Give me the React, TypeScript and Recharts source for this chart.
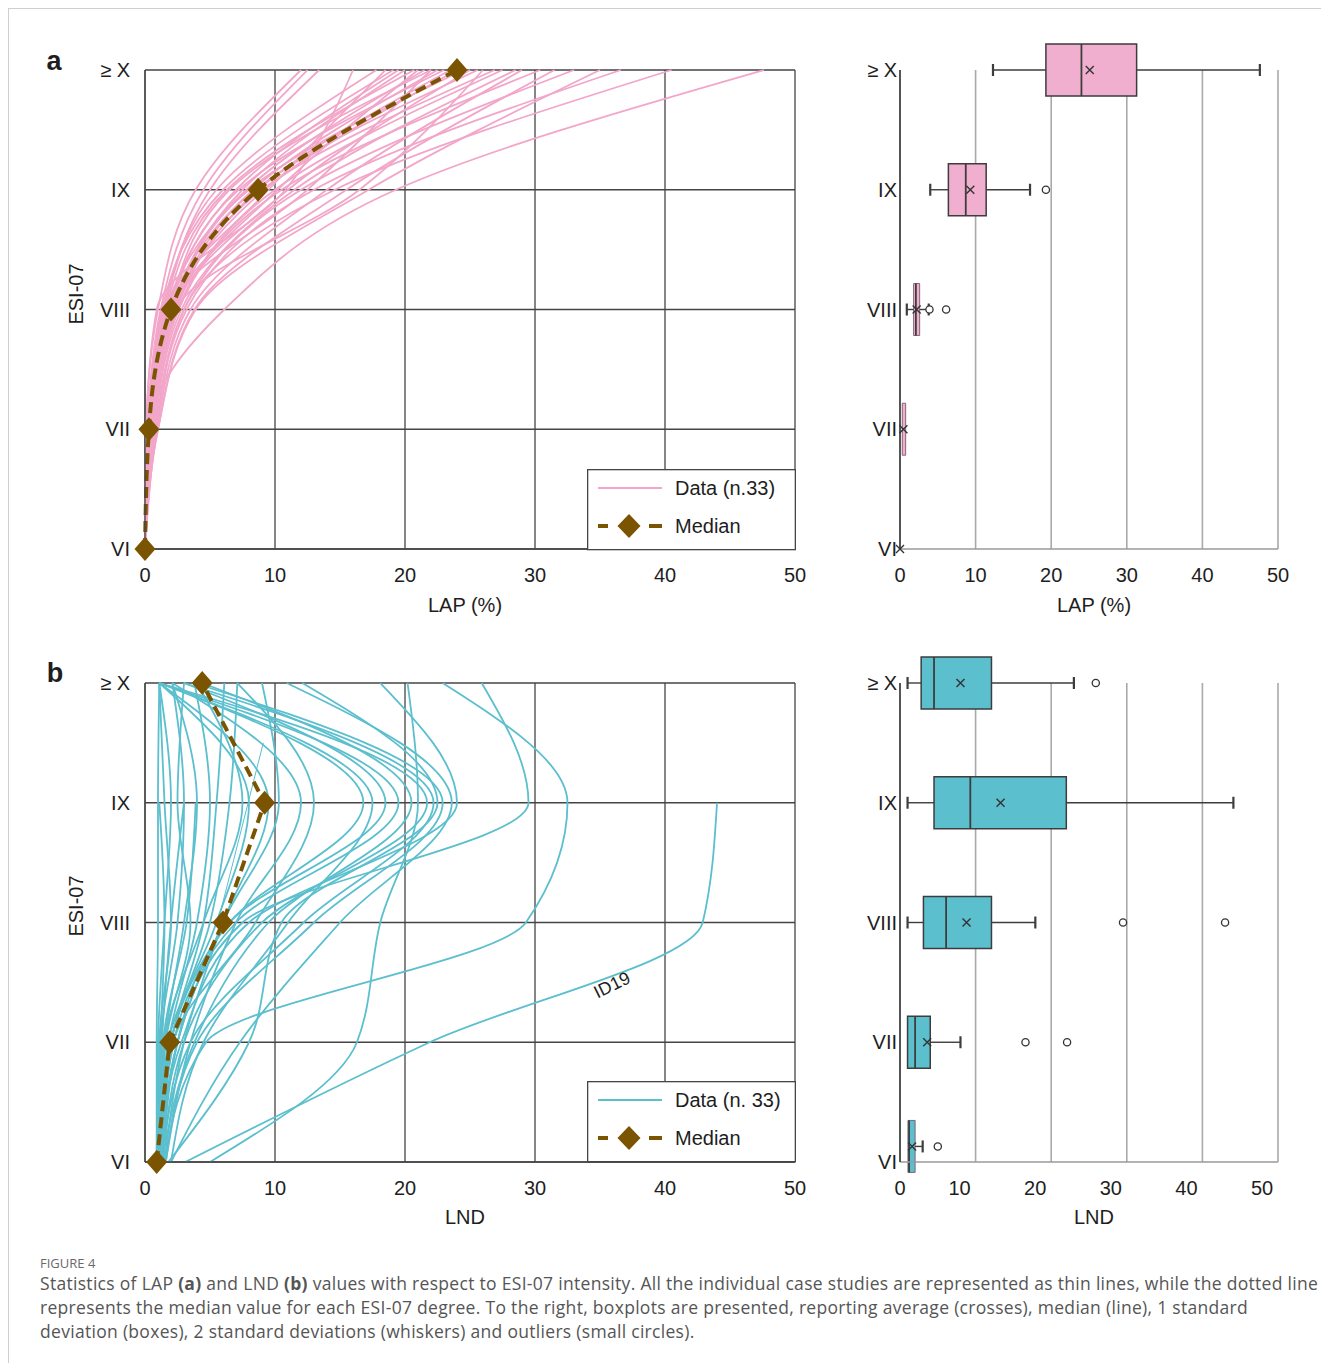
import React from 'react';
import {
  LineChart,
  Line,
  XAxis,
  YAxis,
  CartesianGrid,
  ScatterChart,
  Scatter,
  ReferenceArea,
  ReferenceLine,
} from 'recharts';

// ---------- shared categories / ticks ----------
const levelLabels = ['VI', 'VII', 'VIII', 'IX', '≥ X'];
const levelIndex = [0, 1, 2, 3, 4];
const xTicks = [0, 10, 20, 30, 40, 50];

// ---------- panel a : LAP (%) per case, values at [VI, VII, VIII, IX, ≥X] ----------
const lapCases: (number | null)[][] = [
  [0, 0.1, 1.0, 3.9, 12.0],
  [0, 0.2, 1.2, 4.5, 12.5],
  [0, 0.2, 1.4, 5.0, 13.4],
  [0, 0.3, 1.5, 5.5, 17.8],
  [0, 0.2, 1.3, 6.0, 19.1],
  [0, 0.4, 1.6, 6.3, 20.7],
  [0, 0.3, 1.8, 6.5, 22.0],
  [0, 0.3, 1.7, 7.0, 19.5],
  [0, 0.4, 1.9, 7.2, 23.0],
  [0, 0.5, 2.0, 7.5, 20.0],
  [0, 0.2, 1.6, 7.8, 21.5],
  [0, 0.4, 2.1, 8.0, 24.5],
  [0, 0.5, 2.2, 8.3, 22.5],
  [0, 0.3, 2.0, 8.5, 25.6],
  [0, 0.5, 2.3, 8.7, 23.5],
  [0, 0.6, 2.4, 9.0, 26.9],
  [0, 0.4, 2.1, 9.2, 24.0],
  [0, 0.2, 1.5, 9.5, 18.5],
  [0, 0.6, 2.5, 10.0, 27.5],
  [0, 0.3, 2.0, 10.2, 21.0],
  [0, 0.7, 2.6, 10.5, 30.4],
  [0, 0.5, 2.2, 11.0, 25.0],
  [0, 0.7, 2.8, 11.5, 28.5],
  [0, 0.8, 3.0, 12.0, 33.0],
  [0, 0.4, 1.8, 12.5, 22.0],
  [0, 0.8, 3.2, 13.0, 36.6],
  [0, 0.9, 3.5, 14.0, 29.0],
  [0, 0.9, 3.0, 14.6, 40.5],
  [0, 1.0, 3.8, 15.5, 31.5],
  [0, 0.6, 2.4, 16.5, 26.0],
  [0, 1.0, 3.9, 17.2, 35.0],
  [0, 0.3, 6.1, 19.3, 47.6],
  [0, 0.1, 0.9, 10.8, 16.0],
];
const lapMedian = [0, 0.3, 2.0, 8.7, 24.0];

// ---------- panel b : LND per case, values at [VI, VII, VIII, IX, ≥X] ----------
const lndCases: (number | null)[][] = [
  [3.1, 21.9, 42.9, 44.0, null], // ID19
  [1.5, 4.7, 29.3, 32.5, 22.9],
  [1.2, 2.5, 7.5, 29.5, 25.9],
  [1.0, 2.0, 6.5, 16.8, 1.1],
  [1.2, 2.2, 7.0, 19.5, 1.1],
  [1.4, 3.0, 9.0, 21.7, 1.1],
  [1.3, 3.5, 12.2, 22.2, 3.0],
  [1.6, 4.0, 13.0, 22.9, 3.8],
  [2.0, 7.3, 15.0, 23.6, 10.9],
  [1.8, 8.0, 10.5, 22.5, 12.1],
  [1.1, 2.8, 8.0, 24.0, 18.1],
  [5.0, 16.3, 18.1, 21.0, 20.2],
  [0.9, 0.9, 1.0, 1.0, 1.1],
  [0.9, 1.0, 1.5, 2.0, 1.1],
  [1.0, 1.2, 2.5, 3.0, 2.1],
  [1.0, 1.5, 3.0, 4.0, 2.1],
  [1.1, 1.6, 3.5, 2.5, 3.0],
  [1.1, 1.8, 4.0, 5.0, 3.8],
  [1.2, 2.0, 4.5, 5.5, 6.1],
  [1.2, 2.0, 5.0, 6.5, 7.1],
  [1.3, 2.5, 6.0, 10.3, 9.0],
  [1.0, 1.8, 5.5, 8.0, 1.1],
  [1.0, 1.2, 1.5, 1.1, null],
  [1.0, 1.3, 2.0, 3.0, null],
  [1.1, 1.4, 3.2, 3.9, null],
  [1.5, 3.0, 6.0, 9.5, 1.1],
  [1.6, 3.5, 7.0, 12.0, 2.1],
  [2.0, 4.5, 11.0, 17.5, 1.1],
  [1.4, 2.5, 6.5, 18.5, 3.0],
  [1.0, 1.5, 4.5, 7.5, 4.0],
  [1.2, 2.2, 8.5, 13.0, 7.1],
  [1.0, 1.1, 2.0, 1.5, 1.1],
  [1.3, 3.8, 9.5, 20.5, 4.4],
];
const lndMedian = [0.9, 1.9, 6.0, 9.2, 4.4];
// one short partial case drawn as a thin segment
const lndPartialLevels = [2, 3.5];
const lndPartialValues = [5.6, 9.1];

// ---------- boxplot statistics ----------
const lapBoxLevel = [4, 3, 2, 1, 0];
const lapBoxMin = [12.3, 4.0, 0.9, null, null];
const lapBoxQ1 = [19.3, 6.4, 1.8, 0.3, null];
const lapBoxMedian = [24.0, 8.7, 2.1, null, null];
const lapBoxQ3 = [31.3, 11.4, 2.6, 0.75, null];
const lapBoxMax = [47.6, 17.2, 3.8, null, null];
const lapBoxMean = [25.1, 9.3, 2.2, 0.45, 0];
const lapOutlierLevel = [3, 2, 2];
const lapOutlierValue = [19.3, 3.9, 6.1];

const lndBoxLevel = [4, 3, 2, 1, 0.13];
const lndBoxMin = [1.0, 1.0, 1.0, null, null];
const lndBoxQ1 = [2.8, 4.5, 3.1, 1.0, 1.05];
const lndBoxMedian = [4.5, 9.3, 6.1, 2.0, 1.2];
const lndBoxQ3 = [12.1, 22.0, 12.1, 4.0, 2.0];
const lndBoxMax = [23.0, 44.1, 17.9, 8.0, 3.0];
const lndBoxMean = [8.0, 13.3, 8.8, 3.6, 1.6];
const lndOutlierLevel = [4, 2, 2, 1, 1, 0.13];
const lndOutlierValue = [25.9, 29.5, 43.0, 16.6, 22.1, 5.0];

// ---------- styles ----------
const FONT = '"Liberation Sans", Arial, sans-serif';
const PINK_LINE = '#F2A6C9';
const PINK_BOX = '#F1AFCF';
const CYAN = '#5BBFCE';
const BROWN = '#7A5400';
const GRID_DARK = '#454545';
const TEXT = '#1e1e1e';

type Val = number | null;

function buildRows(cases: Val[][], median: number[]) {
  return levelIndex.map((lvl, i) => {
    const row: Record<string, Val> = { lvl, median: median[i] };
    cases.forEach((c, k) => {
      row['c' + k] = c[i];
    });
    return row;
  });
}

const Diamond = (props: any) => {
  const { cx, cy, index } = props;
  if (cx == null || cy == null) return <g key={'d' + index} />;
  return (
    <path
      key={'d' + index}
      d={`M${cx},${cy - 12}L${cx + 10.5},${cy}L${cx},${cy + 12}L${cx - 10.5},${cy}Z`}
      fill={BROWN}
    />
  );
};

const tickStyle = { fill: TEXT, fontSize: 20, fontFamily: FONT };

function ProfilePanel(props: {
  top: number;
  cases: Val[][];
  median: number[];
  color: string;
  medianCurve: 'monotone' | 'linear';
  partial?: { lvl: number; v: number }[];
}) {
  const { top, cases, median, color, partial, medianCurve } = props;
  const rows = buildRows(cases, median);
  return (
    <div style={{ position: 'absolute', left: 0, top, width: 820, height: 620 }}>
      <LineChart
        width={820}
        height={620}
        layout="vertical"
        data={rows}
        margin={{ top: 70, right: 25, bottom: 31, left: 85 }}
      >
        <CartesianGrid stroke={GRID_DARK} strokeWidth={1.3} />
        <XAxis
          type="number"
          domain={[0, 50]}
          ticks={xTicks}
          height={40}
          tickLine={false}
          tickSize={0}
          tickMargin={19}
          axisLine={{ stroke: GRID_DARK, strokeWidth: 1.3 }}
          tick={tickStyle}
        />
        <YAxis
          type="number"
          dataKey="lvl"
          domain={[0, 4]}
          ticks={levelIndex}
          reversed
          tickFormatter={(v: number) => levelLabels[v]}
          width={60}
          tickLine={false}
          tickSize={0}
          tickMargin={15}
          axisLine={{ stroke: GRID_DARK, strokeWidth: 1.3 }}
          tick={tickStyle}
        />
        {cases.map((_, k) => (
          <Line
            key={'c' + k}
            dataKey={'c' + k}
            type="monotone"
            stroke={color}
            strokeWidth={1.8}
            dot={false}
            activeDot={false}
            isAnimationActive={false}
          />
        ))}
        {partial ? (
          <Line
            data={partial}
            dataKey="v"
            type="linear"
            stroke={color}
            strokeWidth={1}
            dot={false}
            activeDot={false}
            isAnimationActive={false}
          />
        ) : null}
        <Line
          dataKey="median"
          type={medianCurve}
          stroke={BROWN}
          strokeWidth={4}
          strokeDasharray="11 6"
          dot={(p: any) => <Diamond {...p} key={'dm' + p.index} />}
          activeDot={false}
          isAnimationActive={false}
        />
      </LineChart>
    </div>
  );
}

const MeanCross = (props: any) => {
  const { cx, cy } = props;
  if (cx == null || cy == null) return <g />;
  const s = 4;
  return (
    <path
      d={`M${cx - s},${cy - s}L${cx + s},${cy + s}M${cx - s},${cy + s}L${cx + s},${cy - s}`}
      stroke="#333"
      strokeWidth={1.4}
      fill="none"
    />
  );
};

const Ring = (props: any) => {
  const { cx, cy } = props;
  if (cx == null || cy == null) return <g />;
  return <circle cx={cx} cy={cy} r={3.6} fill="#fff" stroke="#333" strokeWidth={1.3} />;
};

const ShiftedTick = (props: any) => {
  const { x, y, payload } = props;
  const shift = payload.value === 0 ? 0 : -16;
  return (
    <text x={x + shift} y={y} dy="0.71em" textAnchor="middle" fill={TEXT} fontSize={20} fontFamily={FONT}>
      {payload.value}
    </text>
  );
};

function BoxPanel(props: {
  top: number;
  level: number[];
  min: Val[];
  q1: Val[];
  med: Val[];
  q3: Val[];
  max: Val[];
  mean: number[];
  outLevel: number[];
  outValue: number[];
  fill: string;
  shiftTicks?: boolean;
}) {
  const { top, level, min, q1, med, q3, max, mean, outLevel, outValue, fill, shiftTicks } = props;
  const H = 0.217;
  const C = 0.05;
  const meanPts = level.map((l, i) => ({ x: mean[i], y: l }));
  const outPts = outLevel.map((l, i) => ({ x: outValue[i], y: l }));
  const stroke = '#3d3d3d';
  const elems: React.ReactNode[] = [];
  level.forEach((l, i) => {
    const lo = q1[i];
    const hi = q3[i];
    if (min[i] != null && lo != null) {
      elems.push(
        <ReferenceLine key={'wl' + i} segment={[{ x: min[i] as number, y: l }, { x: lo, y: l }]} stroke={stroke} strokeWidth={1.4} ifOverflow="visible" />,
        <ReferenceLine key={'cl' + i} segment={[{ x: min[i] as number, y: l - C }, { x: min[i] as number, y: l + C }]} stroke={stroke} strokeWidth={2.2} ifOverflow="visible" />
      );
    }
    if (max[i] != null && hi != null) {
      elems.push(
        <ReferenceLine key={'wh' + i} segment={[{ x: hi, y: l }, { x: max[i] as number, y: l }]} stroke={stroke} strokeWidth={1.4} ifOverflow="visible" />,
        <ReferenceLine key={'ch' + i} segment={[{ x: max[i] as number, y: l - C }, { x: max[i] as number, y: l + C }]} stroke={stroke} strokeWidth={2.2} ifOverflow="visible" />
      );
    }
    if (lo != null && hi != null) {
      const narrow = hi - lo < 1;
      elems.push(
        <ReferenceArea
          key={'b' + i}
          x1={lo}
          x2={hi}
          y1={l - H}
          y2={l + H}
          fill={fill}
          fillOpacity={1}
          stroke={narrow ? '#7a5a68' : stroke}
          strokeWidth={narrow ? 0.9 : 1.5}
          ifOverflow="visible"
        />
      );
    }
    if (med[i] != null) {
      elems.push(
        <ReferenceLine key={'m' + i} segment={[{ x: med[i] as number, y: l - H }, { x: med[i] as number, y: l + H }]} stroke={stroke} strokeWidth={1.8} ifOverflow="visible" />
      );
    }
  });
  return (
    <div style={{ position: 'absolute', left: 840, top, width: 470, height: 620 }}>
      <ScatterChart width={470} height={620} margin={{ top: 70, right: 32, bottom: 31, left: 20 }}>
        <CartesianGrid horizontal={false} stroke="#a9a9a9" strokeWidth={1.6} />
        <XAxis
          type="number"
          dataKey="x"
          domain={[0, 50]}
          ticks={xTicks}
          height={40}
          tickLine={false}
          tickSize={0}
          tickMargin={19}
          axisLine={{ stroke: '#9a9a9a', strokeWidth: 1.6 }}
          tick={shiftTicks ? <ShiftedTick /> : tickStyle}
        />
        <YAxis
          type="number"
          dataKey="y"
          domain={[0, 4]}
          ticks={levelIndex}
          tickFormatter={(v: number) => levelLabels[v]}
          width={40}
          tickLine={false}
          tickSize={0}
          tickMargin={3}
          axisLine={{ stroke: '#333', strokeWidth: 1.5 }}
          tick={tickStyle}
        />
        {elems}
        <Scatter data={meanPts} shape={<MeanCross />} isAnimationActive={false} />
        <Scatter data={outPts} shape={<Ring />} isAnimationActive={false} />
      </ScatterChart>
    </div>
  );
}

function LegendBox(props: { left: number; top: number; color: string; label: string }) {
  const { left, top, color, label } = props;
  return (
    <svg style={{ position: 'absolute', left, top }} width={210} height={82}>
      <rect x={0.65} y={0.65} width={207.7} height={80} fill="#fff" stroke={GRID_DARK} strokeWidth={1.3} />
      <line x1={11} x2={75} y1={19} y2={19} stroke={color} strokeWidth={2} />
      <text x={88} y={26} fontSize={20} fontFamily={FONT} fill={TEXT}>
        {label}
      </text>
      <line x1={11} x2={21} y1={57} y2={57} stroke={BROWN} strokeWidth={4} />
      <line x1={62} x2={75} y1={57} y2={57} stroke={BROWN} strokeWidth={4} />
      <path d="M42,45 L53.5,57 L42,69 L30.5,57Z" fill={BROWN} />
      <text x={88} y={64} fontSize={20} fontFamily={FONT} fill={TEXT}>
        Median
      </text>
    </svg>
  );
}

const centered = (x: number, y: number, extra: React.CSSProperties = {}): React.CSSProperties => ({
  position: 'absolute',
  left: x,
  top: y,
  transform: 'translate(-50%, -50%)',
  whiteSpace: 'nowrap',
  fontFamily: FONT,
  fontSize: 20,
  color: TEXT,
  lineHeight: 1,
  ...extra,
});

export default function App() {
  const partial = lndPartialLevels.map((l, i) => ({ lvl: l, v: lndPartialValues[i] }));
  return (
    <div
      style={{
        position: 'absolute',
        left: 0,
        top: 0,
        width: 1321,
        height: 1363,
        background: '#fff',
        overflow: 'hidden',
      }}
    >
      <div
        style={{
          position: 'absolute',
          left: 8,
          top: 8,
          width: 1320,
          height: 1360,
          borderTop: '1px solid #cfcfcf',
          borderLeft: '1px solid #cfcfcf',
        }}
      />

      <ProfilePanel top={0} cases={lapCases} median={lapMedian} color={PINK_LINE} medianCurve="monotone" />
      <BoxPanel
        top={0}
        level={lapBoxLevel}
        min={lapBoxMin}
        q1={lapBoxQ1}
        med={lapBoxMedian}
        q3={lapBoxQ3}
        max={lapBoxMax}
        mean={lapBoxMean}
        outLevel={lapOutlierLevel}
        outValue={lapOutlierValue}
        fill={PINK_BOX}
      />
      <LegendBox left={587} top={469} color={PINK_LINE} label="Data (n.33)" />

      <ProfilePanel top={613} cases={lndCases} median={lndMedian} color={CYAN} partial={partial} medianCurve="linear" />
      <BoxPanel
        top={613}
        level={lndBoxLevel}
        min={lndBoxMin}
        q1={lndBoxQ1}
        med={lndBoxMedian}
        q3={lndBoxQ3}
        max={lndBoxMax}
        mean={lndBoxMean}
        outLevel={lndOutlierLevel}
        outValue={lndOutlierValue}
        fill={CYAN}
        shiftTicks
      />
      <LegendBox left={587} top={1081} color={CYAN} label="Data (n. 33)" />

      <div style={centered(612, 985, { transform: 'translate(-50%, -50%) rotate(-26deg)', fontSize: 18 })}>ID19</div>

      <div style={centered(54, 61, { fontWeight: 'bold', fontSize: 27 })}>a</div>
      <div style={centered(55, 673, { fontWeight: 'bold', fontSize: 27 })}>b</div>

      <div style={centered(76, 294, { transform: 'translate(-50%, -50%) rotate(-90deg)' })}>ESI-07</div>
      <div style={centered(76, 906, { transform: 'translate(-50%, -50%) rotate(-90deg)' })}>ESI-07</div>

      <div style={centered(465, 605)}>LAP (%)</div>
      <div style={centered(1094, 605)}>LAP (%)</div>
      <div style={centered(465, 1217)}>LND</div>
      <div style={centered(1094, 1217)}>LND</div>

      <div
        style={{
          position: 'absolute',
          left: 40,
          top: 1255,
          fontFamily: '"Open Sans", "Noto Sans", sans-serif',
          fontSize: 13,
          lineHeight: '16px',
          color: '#6a6a6a',
        }}
      >
        FIGURE 4
      </div>
      <div
        style={{
          position: 'absolute',
          left: 40,
          top: 1271,
          fontFamily: '"Open Sans", "Noto Sans", sans-serif',
          fontSize: 17.5,
          letterSpacing: 0.3,
          lineHeight: '24px',
          color: '#555',
          whiteSpace: 'nowrap',
        }}
      >
        <div>
          Statistics of LAP <b>(a)</b> and LND <b>(b)</b> values with respect to ESI-07 intensity. All the individual case studies are
          represented as thin lines, while the dotted line
        </div>
        <div>
          represents the median value for each ESI-07 degree. To the right, boxplots are presented, reporting average (crosses),
          median (line), 1 standard
        </div>
        <div>deviation (boxes), 2 standard deviations (whiskers) and outliers (small circles).</div>
      </div>
    </div>
  );
}
